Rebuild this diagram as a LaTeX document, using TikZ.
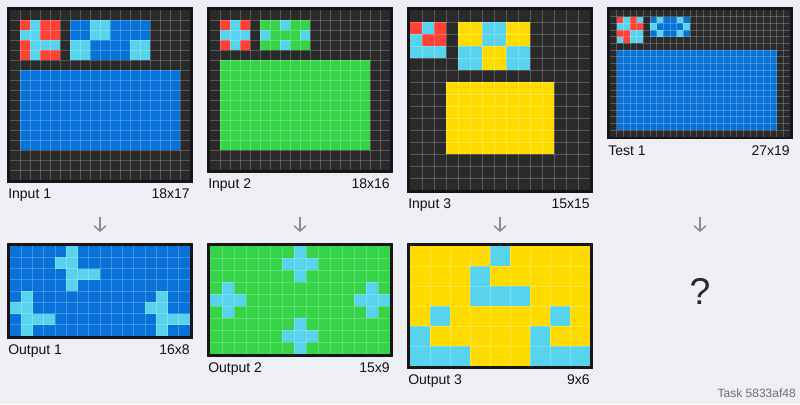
\documentclass[tikz,border=0pt]{standalone}
\usepackage{fontspec}
\setmainfont{Liberation Sans}
\usetikzlibrary{arrows.meta, positioning, calc}
\definecolor{cbg}{HTML}{EEEEF5}
\definecolor{cblack}{HTML}{2A2A2A}
\definecolor{cframe}{HTML}{161616}
\definecolor{cblue}{HTML}{0872D9}
\definecolor{cred}{HTML}{FF4136}
\definecolor{cgreen}{HTML}{36D448}
\definecolor{cyellow}{HTML}{FFDC00}
\definecolor{ccyan}{HTML}{58D3EE}
\definecolor{carrow}{HTML}{8C8C8C}
\definecolor{ctext}{HTML}{111111}
\definecolor{cnote}{HTML}{6E6E6E}
\tikzset{
  every picture/.style={x=0.75pt, y=-0.75pt},
  gridline/.style={draw=white, draw opacity=0.22, line width=0.6pt},
  frame/.style={draw=cframe, line width=2pt},
  lbl/.style={font=\fontsize{10.5}{12}\selectfont, text=ctext, inner sep=0pt},
  flow/.style={-{Straight Barb[length=4pt, width=9pt]}, draw=carrow, line width=1.1pt},
  note/.style={font=\fontsize{9}{10}\selectfont, text=cnote, inner sep=0pt},
}
% one cell, and a block of cells
\newcommand{\cellat}[3]{\fill[#1] (#2,#3) rectangle ++(1,1);}
\newcommand{\cellblock}[5]{\fill[#1] (#2,#3) rectangle (#4,#5);}
% grid: x0, y0, cell size, cols, rows, cells
\newcommand{\arcgrid}[6]{%
  \begin{scope}[shift={(#1,#2)}, scale=#3]
    \fill[cblack] (0,0) rectangle (#4,#5);
    #6
    \pgfmathtruncatemacro\lastc{#4-1}
    \pgfmathtruncatemacro\lastr{#5-1}
    \foreach \i in {1,...,\lastc} \draw[gridline] (\i,0) -- (\i,#5);
    \foreach \j in {1,...,\lastr} \draw[gridline] (0,\j) -- (#4,\j);
    \pgfmathsetmacro\fo{1.35/#3}
    \draw[frame] (-\fo,-\fo) rectangle (#4+\fo,#5+\fo);
  \end{scope}}

\begin{document}
\begin{tikzpicture}
  \useasboundingbox (0,0) rectangle (800,404);
  \fill[cbg] (0,0) rectangle (800,404);
  % input 1
  \arcgrid{10}{10}{10}{18}{17}{%
    \foreach \cx/\cy in {1/1,3/1,4/1,3/2,4/2,1/3,1/4,3/4,4/4} \cellat{cred}{\cx}{\cy};
    \foreach \cx/\cy in {2/1,1/2,2/2,2/3,3/3,4/3,2/4} \cellat{ccyan}{\cx}{\cy};
    \cellblock{cblue}{6}{1}{14}{5}
    \cellblock{ccyan}{8}{1}{10}{3}
    \cellblock{ccyan}{6}{3}{8}{5}
    \cellblock{ccyan}{12}{3}{14}{5}
    \cellblock{cblue}{1}{6}{17}{14}}
  \node[lbl, anchor=base west] (in1) at (8,198.5) {Input 1};
  \node[lbl, anchor=base east] (in1n) at (190,198.5) {18x17};
  % input 2
  \arcgrid{210}{10}{10}{18}{16}{%
    \foreach \cx/\cy in {1/1,3/1,1/3,3/3} \cellat{cred}{\cx}{\cy};
    \foreach \cx/\cy in {2/1,1/2,2/2,3/2,2/3} \cellat{ccyan}{\cx}{\cy};
    \cellblock{cgreen}{5}{1}{10}{4}
    \foreach \cx/\cy in {7/1,5/2,9/2,7/3} \cellat{ccyan}{\cx}{\cy};
    \cellblock{cgreen}{1}{5}{16}{14}}
  \node[lbl, anchor=base west] (in2) at (208,188.5) {Input 2};
  \node[lbl, anchor=base east] (in2n) at (390,188.5) {18x16};
  % input 3
  \arcgrid{410}{10}{12}{15}{15}{%
    \foreach \cx/\cy in {0/1,2/1,1/2,2/2} \cellat{cred}{\cx}{\cy};
    \foreach \cx/\cy in {1/1,0/2,0/3,1/3,2/3} \cellat{ccyan}{\cx}{\cy};
    \cellblock{cyellow}{4}{1}{10}{5}
    \cellblock{ccyan}{6}{1}{8}{3}
    \cellblock{ccyan}{4}{3}{6}{5}
    \cellblock{ccyan}{8}{3}{10}{5}
    \cellblock{cyellow}{3}{6}{12}{12}}
  \node[lbl, anchor=base west] (in3) at (408,208.5) {Input 3};
  \node[lbl, anchor=base east] (in3n) at (590,208.5) {15x15};
  % test 1
  \arcgrid{610}{10}{6.6667}{27}{19}{%
    \foreach \cx/\cy in {1/1,3/1,3/2,4/2,1/3,2/3,2/4} \cellat{cred}{\cx}{\cy};
    \foreach \cx/\cy in {2/1,4/1,1/2,2/2,3/3,4/3,1/4,3/4,4/4} \cellat{ccyan}{\cx}{\cy};
    \cellblock{cblue}{6}{1}{12}{4}
    \foreach \cx/\cy in {7/1,10/1,6/2,11/2,7/3,10/3} \cellat{ccyan}{\cx}{\cy};
    \cellblock{cblue}{1}{6}{25}{18}}
  \node[lbl, anchor=base west] (ts1) at (608,155) {Test 1};
  \node[lbl, anchor=base east] (ts1n) at (790,155) {27x19};
  % arrows
  \foreach \k/\x in {1/100, 2/300, 3/500, 4/700} {
    \coordinate (ar\k a) at (\x,217);
    \coordinate (ar\k b) at (\x,232);
    \draw[flow] (ar\k a) -- (ar\k b);
  }
  % output 1
  \arcgrid{10}{246}{11.25}{16}{8}{%
    \cellblock{cblue}{0}{0}{16}{8}
    \foreach \bx/\by in {4/0, 0/4, 12/4}
      \foreach \cx/\cy in {1/0,0/1,1/1,1/2,2/2,3/2,1/3} \cellat{ccyan}{\bx+\cx}{\by+\cy};}
  \node[lbl, anchor=base west] (out1) at (8,354.5) {Output 1};
  \node[lbl, anchor=base east] (out1n) at (190,354.5) {16x8};
  % output 2
  \arcgrid{210}{246}{12}{15}{9}{%
    \cellblock{cgreen}{0}{0}{15}{9}
    \foreach \bx/\by in {6/0, 0/3, 12/3, 6/6}
      \foreach \cx/\cy in {1/0,0/1,1/1,2/1,1/2} \cellat{ccyan}{\bx+\cx}{\by+\cy};}
  \node[lbl, anchor=base west] (out2) at (208,372.5) {Output 2};
  \node[lbl, anchor=base east] (out2n) at (390,372.5) {15x9};
  % output 3
  \arcgrid{410}{246}{20}{9}{6}{%
    \cellblock{cyellow}{0}{0}{9}{6}
    \foreach \bx/\by in {3/0, 0/3, 6/3}
      \foreach \cx/\cy in {1/0,0/1,0/2,1/2,2/2} \cellat{ccyan}{\bx+\cx}{\by+\cy};}
  \node[lbl, anchor=base west] (out3) at (408,384.5) {Output 3};
  \node[lbl, anchor=base east] (out3n) at (590,384.5) {9x6};
  % unknown test output
  \node[font=\fontsize{28}{30}\selectfont, text=ctext!90, inner sep=0pt] (qm) at (700,291.5) {?};
  \node[note, anchor=base east] (task) at (796,397) {Task 5833af48};
\end{tikzpicture}
\end{document}
